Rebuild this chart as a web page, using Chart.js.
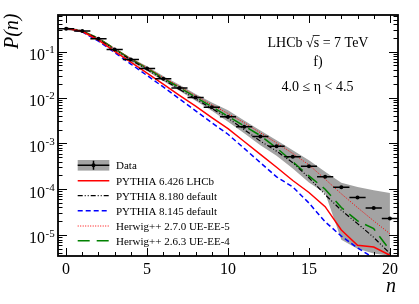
<!DOCTYPE html>
<html>
<head>
<meta charset="utf-8">
<script src="https://cdn.jsdelivr.net/npm/chart.js@4.4.1/dist/chart.umd.min.js"></script>
<style>
  body { margin: 0; background: #fff; }
  #wrap { width: 419px; height: 304px; }
</style>
</head>
<body>
<div id="wrap"><canvas id="canvas" width="419" height="304"></canvas></div>
<script>
// multiplicity n (bin centres)
const nVals = [0, 1, 2, 3, 4, 5, 6, 7, 8, 9, 10, 11, 12, 13, 14, 15, 16, 17, 18, 19, 20];

// LHCb data, P(n)
const dataP = [0.316, 0.282, 0.191, 0.112, 0.0676, 0.0427, 0.0257, 0.0162, 0.0100, 0.00617, 0.00380,
  0.00229, 0.00141, 8.7e-4, 5.1e-4, 3.16e-4, 1.86e-4, 1.10e-4, 6.6e-5, 3.9e-5, 2.3e-5];
// total uncertainty band
const bandHigh = [0.339, 0.302, 0.204, 0.120, 0.0741, 0.0479, 0.0295, 0.0191, 0.0120, 0.00776, 0.00525,
  0.00316, 0.00191, 0.00117, 7.08e-4, 4.27e-4, 2.40e-4, 1.38e-4, 1.12e-4, 9.55e-5, 8.32e-5];
const bandLow = [0.295, 0.263, 0.178, 0.105, 0.0617, 0.0380, 0.0229, 0.0141, 0.00851, 0.00513, 0.00295,
  0.00166, 9.12e-4, 5.37e-4, 2.82e-4, 1.41e-4, 8.13e-5, 7.94e-6, 5.01e-6, 3.98e-6, 3.55e-6];

// generators
const py6426 = [0.324, 0.275, 0.178, 0.102, 0.0589, 0.0339, 0.0195, 0.0112, 0.00646, 0.00363, 0.00209,
  0.00110, 5.75e-4, 3.02e-4, 1.55e-4, 8.5e-5, 4.17e-5, 1.29e-5, 6.0e-6, 5.5e-6, 3.63e-6];
const py8180 = [0.324, 0.282, 0.186, 0.110, 0.0661, 0.0407, 0.0245, 0.0151, 0.00933, 0.00575, 0.00355,
  0.00200, 0.00112, 6.76e-4, 3.80e-4, 1.78e-4, 7.6e-5, 3.47e-5, 1.78e-5, 8.9e-6, 3.98e-6];
const py8145 = [0.324, 0.269, 0.170, 0.0955, 0.0537, 0.0302, 0.0170, 0.00933, 0.00513, 0.00282, 0.00158,
  7.76e-4, 3.80e-4, 1.86e-4, 1.12e-4, 5.0e-5, 1.95e-5, 9.5e-6, 5.25e-6, 3.16e-6, 1.26e-6];
const hw270 = [0.324, 0.282, 0.195, 0.117, 0.0708, 0.0447, 0.0275, 0.0174, 0.0110, 0.00692, 0.00447,
  0.00282, 0.00170, 0.00102, 6.03e-4, 3.39e-4, 1.66e-4, 7.94e-5, 3.98e-5, 2.04e-5, 1.07e-5];
const hw263 = [0.324, 0.282, 0.195, 0.115, 0.0692, 0.0437, 0.0263, 0.0166, 0.0102, 0.00631, 0.00389,
  0.00240, 0.00148, 7.94e-4, 3.98e-4, 1.95e-4, 1.0e-4, 3.98e-5, 2.04e-5, 1.38e-5, 4.68e-6];

// axis labels
const xTickValues = [0, 5, 10, 15, 20];
const yTickValues = [1e-5, 1e-4, 1e-3, 1e-2, 1e-1];
const yTickExps = ['-5', '-4', '-3', '-2', '-1'];

const GRAY = '#a3a3a3';
const FONT = '"Liberation Serif", "Times New Roman", serif';

function pts(arr) {
  return nVals.map((n, i) => ({ x: n, y: arr[i] }));
}

// horizontal bars (bin width) for the data
const barPts = [];
nVals.forEach((n, i) => {
  barPts.push({ x: n - 0.5, y: dataP[i] });
  barPts.push({ x: n + 0.5, y: dataP[i] });
  barPts.push({ x: n, y: null });
});

function lineSet(label, arr, color, dash, width) {
  return {
    label: label, data: pts(arr), borderColor: color, borderDash: dash,
    borderWidth: width, pointRadius: 0, fill: false, order: 5, tension: 0
  };
}

const datasets = [
  { label: 'bandLow', data: pts(bandLow), borderWidth: 0, pointRadius: 0, fill: false, order: 10 },
  { label: 'bandHigh', data: pts(bandHigh), borderWidth: 0, pointRadius: 0, backgroundColor: GRAY,
    fill: 0, order: 10 },
  lineSet('PYTHIA 6.426 LHCb', py6426, '#ff0000', [], 1.5),
  lineSet('PYTHIA 8.180 default', py8180, '#000000', [5, 2, 1, 2, 1, 2], 1.2),
  lineSet('PYTHIA 8.145 default', py8145, '#0000ff', [5, 3], 1.5),
  lineSet('Herwig++ 2.7.0 UE-EE-5', hw270, '#ff0000', [1, 1.5], 1),
  lineSet('Herwig++ 2.6.3 UE-EE-4', hw263, '#008000', [12, 7], 1.5),
  { label: 'bars', data: barPts, borderColor: '#000', borderWidth: 1.5, pointRadius: 0,
    spanGaps: false, fill: false, order: 1 },
  { label: 'Data', data: pts(dataP), showLine: false, pointRadius: 2, pointBackgroundColor: '#000',
    pointBorderColor: '#000', pointBorderWidth: 0, order: 0 }
];

const rootStyle = {
  id: 'rootStyle',
  afterDraw(chart) {
    const ctx = chart.ctx;
    const a = chart.chartArea;
    const xs = chart.scales.x, ys = chart.scales.y;
    ctx.save();
    ctx.strokeStyle = '#000';
    ctx.fillStyle = '#000';

    // inward ticks
    ctx.lineWidth = 1;
    ctx.beginPath();
    for (let n = 0; n <= 20; n++) {
      const px = Math.round(xs.getPixelForValue(n)) + 0.5;
      const len = n % 5 === 0 ? 8 : 4;
      ctx.moveTo(px, a.bottom); ctx.lineTo(px, a.bottom - len);
      ctx.moveTo(px, a.top); ctx.lineTo(px, a.top + len);
    }
    for (let e = -6; e <= 0; e++) {
      for (let k = 1; k <= 9; k++) {
        const v = k * Math.pow(10, e);
        if (v < ys.min || v > ys.max) continue;
        const py = Math.round(ys.getPixelForValue(v)) + 0.5;
        const len = k === 1 ? 9 : 4.5;
        ctx.moveTo(a.left, py); ctx.lineTo(a.left + len, py);
        ctx.moveTo(a.right, py); ctx.lineTo(a.right - len, py);
      }
    }
    ctx.stroke();

    // frame
    ctx.lineWidth = 1.8;
    ctx.strokeRect(a.left, a.top, a.right - a.left, a.bottom - a.top);

    // x tick labels
    ctx.font = '16px ' + FONT;
    ctx.textAlign = 'center';
    ctx.textBaseline = 'alphabetic';
    xTickValues.forEach(v => {
      ctx.fillText(String(v), xs.getPixelForValue(v), a.bottom + 17.5);
    });
    // y tick labels 10^k
    yTickValues.forEach((v, i) => {
      const py = ys.getPixelForValue(v);
      ctx.font = '16px ' + FONT;
      ctx.textAlign = 'right';
      ctx.fillText('10', 45, py + 8.3);
      ctx.font = '11px ' + FONT;
      ctx.textAlign = 'left';
      ctx.fillText(yTickExps[i], 45.5, py + 1.6);
    });

    // axis titles
    ctx.font = 'italic 20px ' + FONT;
    ctx.textAlign = 'right';
    ctx.fillText('n', a.right - 2, 292);
    ctx.save();
    ctx.translate(18, a.top - 1.5);
    ctx.rotate(-Math.PI / 2);
    ctx.textAlign = 'right';
    ctx.fillText('P(n)', 0, 0);
    ctx.restore();

    // annotation, with the bar over the s of the square root
    ctx.font = '14px ' + FONT;
    ctx.textAlign = 'left';
    const part1 = 'LHCb \u221A', part2 = 's', part3 = ' = 7 TeV';
    const w1 = ctx.measureText(part1).width, w2 = ctx.measureText(part2).width;
    const wAll = ctx.measureText(part1 + part2 + part3).width;
    const sx = 318 - wAll / 2;
    ctx.fillText(part1 + part2 + part3, sx, 46.5);
    ctx.lineWidth = 0.8;
    ctx.beginPath();
    ctx.moveTo(sx + w1 - 1, 35.5); ctx.lineTo(sx + w1 + w2 + 0.5, 35.5);
    ctx.stroke();
    ctx.textAlign = 'center';
    ctx.fillText('f)', 318, 66);
    ctx.fillText('4.0 \u2264 \u03B7 < 4.5', 317.5, 90.5);

    // legend
    const x0 = 77.7, x1 = 109.3, tx = 116;
    const rows = [165.3, 180.7, 195.7, 210.7, 226, 240.7];
    ctx.font = '11px ' + FONT;
    ctx.textAlign = 'left';
    // data entry
    ctx.fillStyle = GRAY;
    ctx.fillRect(x0, rows[0] - 5.3, x1 - x0, 10.6);
    ctx.strokeStyle = '#000';
    ctx.lineWidth = 1.5;
    ctx.setLineDash([]);
    ctx.beginPath();
    ctx.moveTo(x0, rows[0]); ctx.lineTo(x1, rows[0]);
    ctx.moveTo((x0 + x1) / 2, rows[0] - 4.5); ctx.lineTo((x0 + x1) / 2, rows[0] + 4.5);
    ctx.stroke();
    ctx.beginPath();
    ctx.arc((x0 + x1) / 2, rows[0], 2, 0, Math.PI * 2);
    ctx.fillStyle = '#000';
    ctx.fill();
    ctx.fillText('Data', tx, rows[0] + 4);
    const models = chart.data.datasets.slice(2, 7);
    models.forEach((ds, i) => {
      const y = rows[i + 1];
      ctx.strokeStyle = ds.borderColor;
      ctx.lineWidth = ds.borderWidth;
      ctx.setLineDash(ds.borderDash);
      ctx.beginPath();
      ctx.moveTo(x0, y); ctx.lineTo(x1, y);
      ctx.stroke();
      ctx.fillStyle = '#000';
      ctx.fillText(ds.label, tx, y + 4);
    });
    ctx.restore();
  }
};

const ctx = document.getElementById('canvas').getContext('2d');
const myChart = new Chart(ctx, {
  type: 'line',
  data: { datasets: datasets },
  options: {
    responsive: false,
    animation: false,
    devicePixelRatio: 1,
    layout: { padding: { left: 58, right: 21, top: 15, bottom: 48 } },
    plugins: { legend: { display: false }, tooltip: { enabled: false } },
    scales: {
      x: { type: 'linear', min: -0.5, max: 20.5, display: false },
      y: { type: 'logarithmic', min: 3.5e-6, max: 0.63, display: false }
    }
  },
  plugins: [rootStyle]
});
</script>
</body>
</html>
